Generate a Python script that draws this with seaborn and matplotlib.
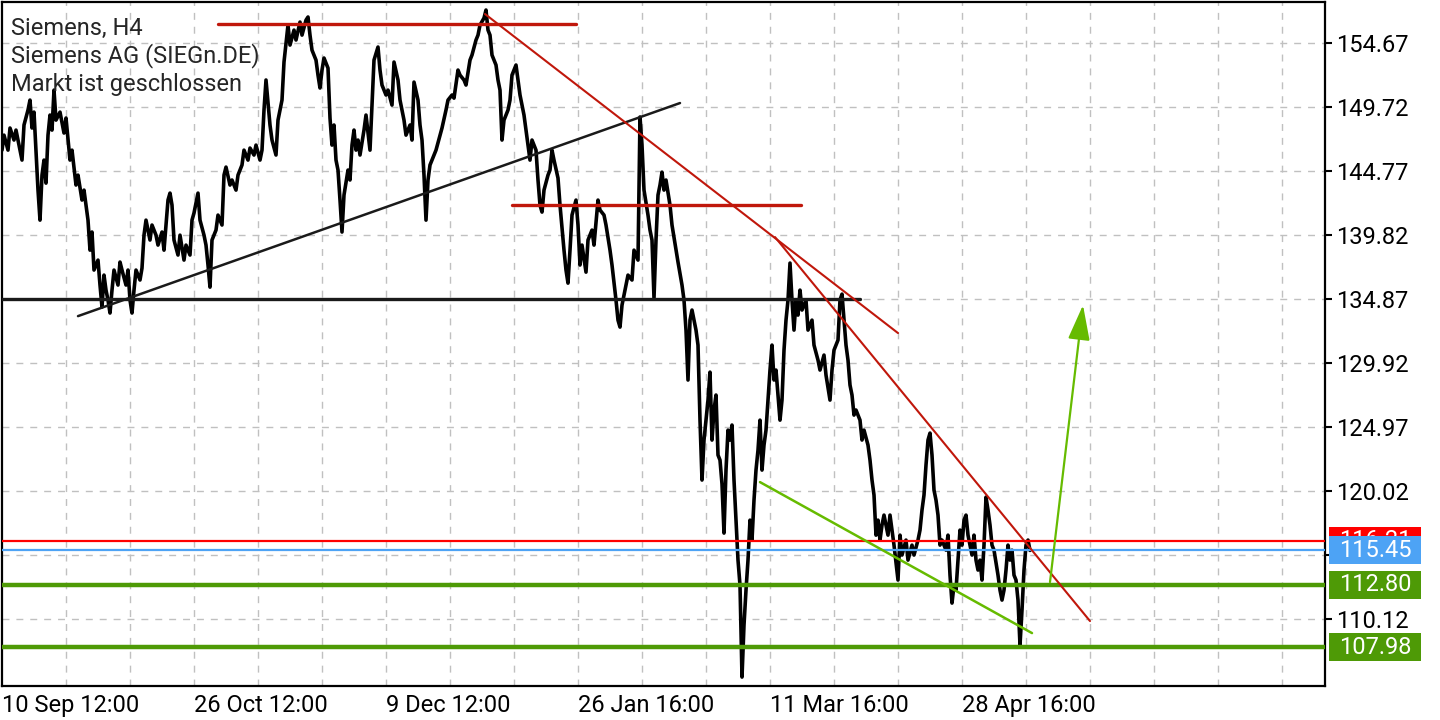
import matplotlib
matplotlib.use('Agg')
import matplotlib.pyplot as plt
import matplotlib.transforms as mtransforms
from matplotlib.patches import Rectangle
import seaborn as sns
import pandas as pd

# H4 Kursverlauf: Balkennummer und Kurs
bars = [1, 2, 4, 5, 7, 8, 10, 11, 12, 14,
        15, 16, 17, 18, 19, 20, 21, 22, 23, 24,
        25, 26, 27, 28, 30, 32, 33, 35, 36, 38,
        39, 41, 42, 44, 45, 46, 47, 49, 50, 51,
        52, 53, 54, 55, 56, 57, 59, 60, 61, 63,
        64, 65, 66, 67, 68, 70, 71, 72, 73, 75,
        76, 78, 79, 81, 82, 84, 85, 86, 87, 89,
        90, 92, 93, 95, 96, 97, 99, 100, 102, 103,
        104, 105, 106, 108, 109, 111, 112, 113, 115, 116,
        118, 119, 121, 122, 124, 125, 127, 128, 130, 131,
        132, 133, 135, 136, 138, 139, 141, 142, 144, 145,
        147, 148, 150, 151, 153, 154, 155, 156, 158, 159,
        160, 161, 162, 164, 165, 166, 167, 168, 169, 170,
        171, 172, 174, 175, 176, 177, 178, 179, 180, 182,
        183, 185, 186, 187, 189, 190, 191, 193, 194, 196,
        197, 199, 200, 202, 203, 205, 206, 207, 209, 210,
        211, 212, 213, 214, 215, 217, 218, 220, 221, 223,
        224, 226, 227, 229, 230, 232, 233, 235, 236, 238,
        239, 240, 242, 243, 244, 245, 246, 248, 249, 250,
        251, 252, 254, 255, 256, 258, 259, 260, 262, 263,
        264, 265, 266, 268, 269, 270, 271, 272, 274, 275,
        276, 277, 279, 280, 282, 283, 284, 285, 286, 288,
        289, 290, 291, 293, 294, 296, 297, 299, 300, 302,
        303, 305, 306, 308, 309, 310, 311, 313, 314, 316,
        317, 319, 320, 321, 322, 324, 325, 326, 327, 328,
        329, 330, 331, 332, 333, 335, 336, 338, 339, 341,
        342, 343, 344, 345, 346, 348, 349, 350, 351, 352,
        354, 355, 356, 357, 358, 359, 360, 361, 362, 363,
        364, 365, 366, 367, 368, 369, 370, 371, 372, 373,
        374, 375, 376, 377, 378, 379, 380, 381, 382, 383,
        384, 385, 386, 387, 388, 390, 391, 392, 393, 394,
        395, 396, 397, 398, 399, 400, 401, 403, 404, 406,
        407, 409, 410, 412, 413, 415, 416, 417, 419, 420,
        421, 422, 423, 424, 425, 426, 427, 428, 430, 431,
        432, 434, 435, 436, 437, 438, 439, 440, 441, 442,
        444, 445, 446, 447, 449, 450, 451, 453, 454, 456,
        457, 459, 460, 461, 462, 463, 464, 465, 466, 467,
        468, 469, 470, 471, 473, 474, 475, 476, 477, 478,
        479, 480, 481, 482, 483, 484, 485, 486, 487, 488,
        489, 490, 491, 492, 493, 494, 495, 496, 497, 499,
        500, 501, 502, 503, 504, 505, 506, 507, 508, 509,
        510, 511, 512, 513, 514, 515]

kurs = [146.39, 147.55, 146.39, 148.10, 147.17, 147.94, 146.39, 145.62, 148.33, 149.49,
        150.26, 148.10, 149.33, 146.39, 143.30, 140.98, 144.46, 145.62, 143.84, 147.55,
        149.10, 147.94, 151.03, 148.71, 149.33, 147.71, 148.87, 145.62, 146.39, 143.69,
        144.46, 142.53, 143.30, 140.98, 138.66, 140.06, 137.12, 137.89, 135.96, 134.26,
        136.73, 135.57, 134.80, 133.80, 135.57, 137.12, 135.96, 137.74, 137.12, 135.96,
        137.12, 134.80, 133.80, 135.57, 137.12, 136.35, 137.27, 139.82, 140.98, 139.44,
        140.60, 139.82, 139.05, 140.06, 138.66, 142.53, 143.07, 142.14, 139.44, 138.28,
        139.82, 137.89, 139.05, 138.28, 140.98, 141.53, 143.07, 140.98, 139.82, 139.05,
        137.51, 135.80, 139.44, 140.21, 141.37, 140.60, 144.46, 145.08, 143.69, 144.08,
        143.30, 144.46, 145.24, 146.39, 145.62, 146.55, 146.01, 146.78, 145.62, 146.39,
        149.49, 151.81, 148.33, 147.17, 146.01, 148.71, 150.26, 153.20, 156.06, 154.51,
        155.67, 154.90, 156.29, 155.28, 156.44, 156.68, 155.28, 154.12, 153.35, 152.19,
        151.19, 152.58, 153.51, 152.73, 148.87, 146.78, 148.33, 145.62, 144.85, 142.53,
        140.06, 142.92, 144.85, 144.08, 146.78, 147.94, 146.39, 147.17, 146.01, 147.94,
        149.10, 146.39, 149.87, 153.35, 154.36, 152.58, 151.42, 150.65, 151.03, 149.87,
        153.20, 151.81, 150.26, 148.71, 147.55, 148.33, 147.17, 151.65, 150.26, 148.33,
        147.17, 144.46, 140.98, 144.08, 145.24, 146.01, 146.39, 147.55, 148.10, 149.49,
        150.26, 150.65, 150.41, 152.58, 152.19, 151.81, 151.42, 153.35, 153.74, 154.90,
        155.28, 156.06, 156.60, 157.22, 155.67, 155.28, 153.74, 152.97, 151.81, 151.03,
        147.17, 148.71, 149.49, 150.26, 152.19, 152.97, 151.81, 150.65, 149.10, 147.94,
        146.78, 145.62, 147.17, 146.39, 144.08, 142.14, 141.60, 143.30, 144.46, 144.85,
        146.39, 145.62, 144.23, 142.14, 138.66, 137.12, 136.11, 138.66, 141.37, 142.53,
        140.60, 137.51, 139.05, 136.96, 139.44, 140.21, 139.05, 142.53, 141.76, 141.37,
        140.60, 138.66, 137.51, 134.80, 133.25, 132.71, 134.41, 135.96, 136.73, 136.35,
        138.66, 137.89, 148.95, 146.78, 143.30, 141.37, 140.21, 139.44, 134.95, 139.44,
        142.92, 143.69, 144.69, 143.30, 144.08, 142.14, 140.60, 138.66, 137.74, 135.96,
        134.80, 132.48, 128.62, 133.25, 134.03, 132.48, 131.32, 125.52, 120.89, 123.98,
        127.07, 129.23, 123.98, 126.30, 127.46, 122.82, 122.43, 120.58, 116.79, 121.66,
        124.75, 123.98, 125.14, 120.89, 117.79, 114.70, 112.77, 105.66, 109.68, 112.38,
        114.70, 117.79, 116.25, 119.34, 121.66, 123.20, 125.52, 121.66, 123.59, 124.75,
        127.07, 129.39, 131.32, 128.62, 129.39, 125.52, 127.07, 130.93, 133.25, 134.80,
        137.66, 134.80, 132.48, 134.80, 133.64, 135.57, 134.03, 134.80, 132.48, 133.25,
        131.32, 130.16, 129.39, 130.55, 129.00, 127.07, 129.39, 130.93, 131.71, 134.80,
        135.26, 133.25, 131.32, 130.16, 128.23, 127.46, 125.91, 126.30, 125.52, 123.98,
        124.75, 123.59, 122.43, 120.89, 119.73, 116.63, 117.79, 116.25, 117.41, 118.18,
        116.63, 118.18, 117.02, 115.86, 113.16, 116.63, 115.09, 116.25, 114.70, 115.86,
        115.09, 116.25, 117.02, 118.57, 119.73, 122.05, 123.98, 124.52, 122.82, 120.11,
        119.34, 118.18, 115.86, 116.25, 115.47, 116.63, 113.54, 111.38, 112.77, 112.38,
        114.70, 117.02, 115.86, 117.79, 118.18, 116.63, 115.86, 115.09, 116.63, 114.70,
        113.93, 114.70, 113.16, 115.86, 119.57, 118.57, 117.41, 115.86, 115.47, 113.54,
        112.38, 111.61, 112.38, 113.93, 115.86, 114.70, 115.47, 113.54, 113.16, 111.61,
        108.13, 110.84, 113.93, 115.86, 116.25, 115.45]

# Achsen
price_ticks = [110.12, 115.07, 120.02, 124.97, 129.92, 134.87, 139.82, 144.77, 149.72, 154.67]
date_ticks = [1, 97, 193, 289, 385, 481]
date_labels = ['10 Sep 12:00', '26 Oct 12:00', '9 Dec 12:00', '26 Jan 16:00', '11 Mar 16:00', '28 Apr 16:00']
grid_bars = [33, 65, 129, 161, 225, 257, 321, 353, 417, 449, 513, 545, 577, 609, 641]

# Trendlinien (Balken, Kurs)
top_line_x, top_line_y = [109, 288], [156.13, 156.13]
mid_line_x, mid_line_y = [256, 400.5], [142.14, 142.14]
support_x, support_y = [39, 340], [133.56, 150.03]
neckline_x, neckline_y = [1, 430], [134.87, 134.87]
down1_x, down1_y = [242.5, 449], [156.91, 132.25]
down2_x, down2_y = [387.5, 545], [139.67, 109.99]
wedge_x, wedge_y = [380, 516], [120.73, 109.06]
arrow_from = (525, 113.00)
arrow_to = (541.5, 134.41)

# Preislevel rechts
levels = [116.21, 115.45, 112.80, 107.98]
level_colors = ['#ff0000', '#4da3f5', '#4e9a06', '#4e9a06']

dark_red = '#c0170b'
light_green = '#66bb00'

sns.set_style('white')
plt.rcParams['font.family'] = ['Roboto', 'DejaVu Sans']

fig = plt.figure(figsize=(14.4, 7.2), dpi=100)
ax = fig.add_axes([2 / 1440, 34 / 720, 1323 / 1440, 684 / 720])

df = pd.DataFrame({'bar': bars, 'kurs': kurs})
sns.lineplot(data=df, x='bar', y='kurs', sort=False, estimator=None,
             color='black', lw=2.6, ax=ax, zorder=3)

# horizontale Linien
ax.axhline(levels[0], color=level_colors[0], lw=1.6, zorder=4)
ax.axhline(levels[1], color=level_colors[1], lw=1.6, zorder=4)
ax.axhline(levels[2], color=level_colors[2], lw=3.2, zorder=4)
ax.axhline(levels[3], color=level_colors[3], lw=3.2, zorder=4)

ax.plot(neckline_x, neckline_y, color='#1a1a1a', lw=2.4, zorder=4)
ax.plot(support_x, support_y, color='#1a1a1a', lw=1.8, zorder=4)
ax.plot(top_line_x, top_line_y, color=dark_red, lw=2.4, zorder=4)
ax.plot(mid_line_x, mid_line_y, color=dark_red, lw=2.4, zorder=4)
ax.plot(down1_x, down1_y, color=dark_red, lw=1.5, zorder=4)
ax.plot(down2_x, down2_y, color=dark_red, lw=1.5, zorder=4)
ax.plot(wedge_x, wedge_y, color=light_green, lw=1.8, zorder=4)
ax.annotate('', xy=arrow_to, xytext=arrow_from,
            arrowprops=dict(arrowstyle='-|>,head_length=0.8,head_width=0.25',
                            color=light_green, lw=1.6, mutation_scale=27,
                            shrinkA=0, shrinkB=0), zorder=4)

ax.set_xlim(1, 662.5)
ax.set_ylim(104.97, 157.84)

# Gitter
for b in grid_bars + date_ticks[1:]:
    ax.axvline(b, color='#c0c0c0', lw=1, ls=(0, (5, 5)), zorder=1)
for p in price_ticks:
    ax.axhline(p, color='#c0c0c0', lw=1, ls=(0, (5, 5)), zorder=1)

ax.yaxis.tick_right()
ax.set_yticks(price_ticks)
ax.set_yticklabels(['%.2f' % p for p in price_ticks])
ax.set_xticks(date_ticks)
ax.set_xticklabels(date_labels, ha='left')
ax.tick_params(axis='y', direction='out', length=5, width=1.5, labelsize=17, pad=3, colors='black')
ax.tick_params(axis='x', direction='out', length=5, width=1.5, labelsize=17, pad=1, colors='black')
ax.set_xlabel('')
ax.set_ylabel('')
for s in ax.spines.values():
    s.set_color('black')
    s.set_linewidth(1.6)

# farbige Kursmarken, jede Marke ueber der vorigen
trans = mtransforms.blended_transform_factory(ax.transAxes, ax.transData)
z = 6
for lvl, col in zip(levels, level_colors):
    ax.add_patch(Rectangle((1.003, lvl - 1.08), 0.0695, 2.16, transform=trans,
                           facecolor=col, edgecolor='none', clip_on=False, zorder=z))
    ax.text(1.003 + 0.0348, lvl, '%.2f' % lvl, transform=trans, ha='center', va='center',
            color='white', fontsize=17, clip_on=False, zorder=z + 1)
    z += 2

fig.text(11 / 1440, 1 - 28 / 720, 'Siemens, H4', fontsize=17, va='center')
fig.text(11 / 1440, 1 - 56 / 720, 'Siemens AG (SIEGn.DE)', fontsize=17, va='center')
fig.text(11 / 1440, 1 - 84 / 720, 'Markt ist geschlossen', fontsize=17, va='center')

fig.savefig('out.png', dpi=100)
